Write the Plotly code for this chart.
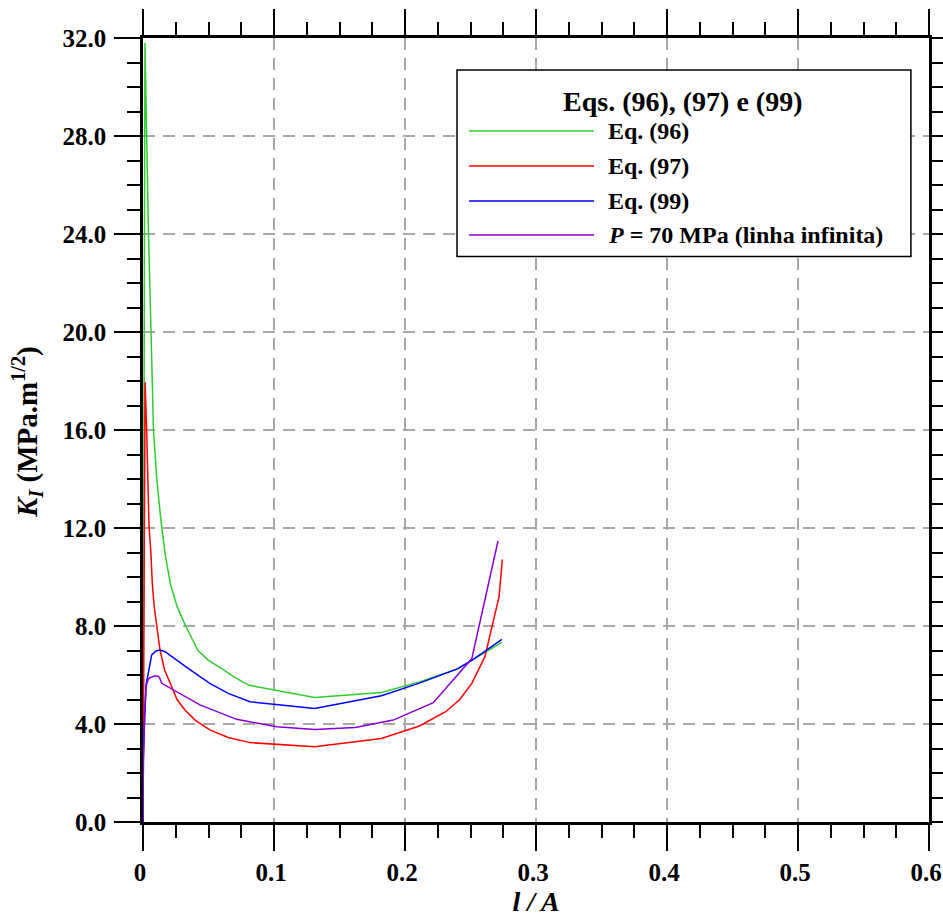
import plotly.graph_objects as go

# Stress intensity factor K_I versus normalised crack length l/A
eq96_x = [0, 0.0015, 0.004, 0.006, 0.008, 0.0105, 0.0135, 0.017, 0.021, 0.026,
          0.033, 0.042, 0.050, 0.059, 0.070, 0.081, 0.131, 0.182, 0.211, 0.240,
          0.251, 0.274]
eq96_y = [0, 31.8, 24.5, 20.0, 16.0, 14.0, 12.4, 10.9, 9.7, 8.8,
          7.95, 7.0, 6.6, 6.3, 5.9, 5.58, 5.08, 5.29, 5.72, 6.25,
          6.6, 7.33]

eq97_x = [0, 0.0016, 0.0028, 0.0037, 0.0046, 0.0059, 0.0071, 0.0085, 0.0104, 0.013,
          0.0165, 0.0206, 0.026, 0.032, 0.040, 0.051, 0.065, 0.0817, 0.131, 0.182,
          0.211, 0.231, 0.2415, 0.251, 0.261, 0.2718, 0.2743]
eq97_y = [0, 17.95, 16.0, 14.0, 12.05, 11.1, 9.74, 8.8, 7.97, 7.02,
          6.2, 5.66, 5.0, 4.57, 4.15, 3.76, 3.45, 3.24, 3.07, 3.41,
          3.92, 4.5, 4.98, 5.66, 6.75, 9.2, 10.72]

eq99_x = [0, 0.0003, 0.0012, 0.0017, 0.0023, 0.0045, 0.0066, 0.010, 0.013, 0.0168,
          0.025, 0.035, 0.051, 0.065, 0.0817, 0.131, 0.182, 0.211, 0.240, 0.251,
          0.274]
eq99_y = [0, 2.7, 4.2, 4.8, 5.6, 6.2, 6.82, 6.98, 7.02, 6.95,
          6.65, 6.25, 5.66, 5.25, 4.91, 4.63, 5.15, 5.67, 6.25, 6.6,
          7.45]

p70_x = [0, 0.0003, 0.0012, 0.0018, 0.0023, 0.0035, 0.0048, 0.0086, 0.011, 0.0125,
         0.0143, 0.0435, 0.0715, 0.102, 0.131, 0.162, 0.191, 0.2216, 0.251, 0.271]
p70_y = [0, 2.5, 4.2, 4.98, 5.5, 5.75, 5.87, 5.96, 5.96, 5.9,
         5.66, 4.78, 4.19, 3.89, 3.78, 3.86, 4.16, 4.87, 6.67, 11.47]

series_names = ["Eq. (96)", "Eq. (97)", "Eq. (99)",
                "<i>P</i> = 70 MPa (linha infinita)"]
series_colors = ["#2ecc2e", "#ff0000", "#0000ff", "#8a00d4"]
legend_title = "Eqs. (96), (97) e (99)"

x_ticks = [0, 0.1, 0.2, 0.3, 0.4, 0.5, 0.6]
y_ticks = [0, 4, 8, 12, 16, 20, 24, 28, 32]

FONT = "Liberation Serif, Times New Roman, serif"

fig = go.Figure()
for xs, ys, name, col in zip([eq96_x, eq97_x, eq99_x, p70_x],
                             [eq96_y, eq97_y, eq99_y, p70_y],
                             series_names, series_colors):
    fig.add_trace(go.Scatter(x=xs, y=ys, mode="lines", name=name,
                             line=dict(color=col, width=1.5),
                             showlegend=False))

axis_common = dict(
    showline=True, linecolor="black", linewidth=2.5, mirror="allticks",
    ticks="outside", ticklen=26, tickwidth=2, tickcolor="black",
    showgrid=True, gridcolor="#a8a8a8", gridwidth=1.5, griddash="12px,8px",
    zeroline=False, automargin=False, ticklabeloverflow="allow",
    tickfont=dict(family=FONT, size=25, color="black", weight="bold"),
)

fig.update_xaxes(
    range=[0, 0.6], tickvals=x_ticks, ticktext=[f"{v:g}" for v in x_ticks],
    minor=dict(dtick=0.025, ticklen=13, tickwidth=2, tickcolor="black",
               ticks="outside", showgrid=False),
    ticklabelshift=-3,
    title=dict(text="<i>l / A</i>",
               font=dict(family=FONT, size=28, color="black", weight="bold"),
               standoff=4),
    **axis_common,
)
fig.update_yaxes(
    range=[0, 32], tickvals=y_ticks, ticktext=[f"{v:.1f}" for v in y_ticks],
    minor=dict(dtick=1, ticklen=13, tickwidth=2, tickcolor="black",
               ticks="outside", showgrid=False),
    ticklabelstandoff=3,
    **axis_common,
)

# Vertical axis title placed as a rotated annotation
fig.add_annotation(xref="paper", yref="paper", x=-0.1476, y=0.4974,
                   text="<i>K<sub>I</sub></i> (MPa.m<sup>1/2</sup>)",
                   textangle=-90, showarrow=False,
                   xanchor="center", yanchor="middle",
                   font=dict(family=FONT, size=29, color="black", weight="bold"))

# Legend panel built from shapes and annotations (long sample lines)
box = dict(x0=0.3995, x1=0.977, y0=0.7213, y1=0.9592)
fig.add_shape(type="rect", xref="paper", yref="paper", **box,
              line=dict(color="black", width=1.5), fillcolor="white",
              layer="above")
fig.add_annotation(xref="paper", yref="paper", x=0.687, y=0.9188,
                   text=legend_title, showarrow=False,
                   xanchor="center", yanchor="middle",
                   font=dict(family=FONT, size=28, color="black", weight="bold"))
row_y = [0.8814, 0.8367, 0.7921, 0.7487]
for name, col, yy in zip(series_names, series_colors, row_y):
    fig.add_shape(type="line", xref="paper", yref="paper",
                  x0=0.4148, x1=0.5738, y0=yy, y1=yy,
                  line=dict(color=col, width=1.5), layer="above")
    fig.add_annotation(xref="paper", yref="paper", x=0.589, y=yy,
                       text=name, showarrow=False,
                       xanchor="left", yanchor="middle",
                       font=dict(family=FONT, size=24, color="black",
                                 weight="bold"))

fig.update_layout(
    width=943, height=917,
    margin=dict(l=143, r=14, t=38, b=95),
    paper_bgcolor="white", plot_bgcolor="white",
    showlegend=False,
)

fig.write_html("out.html")
